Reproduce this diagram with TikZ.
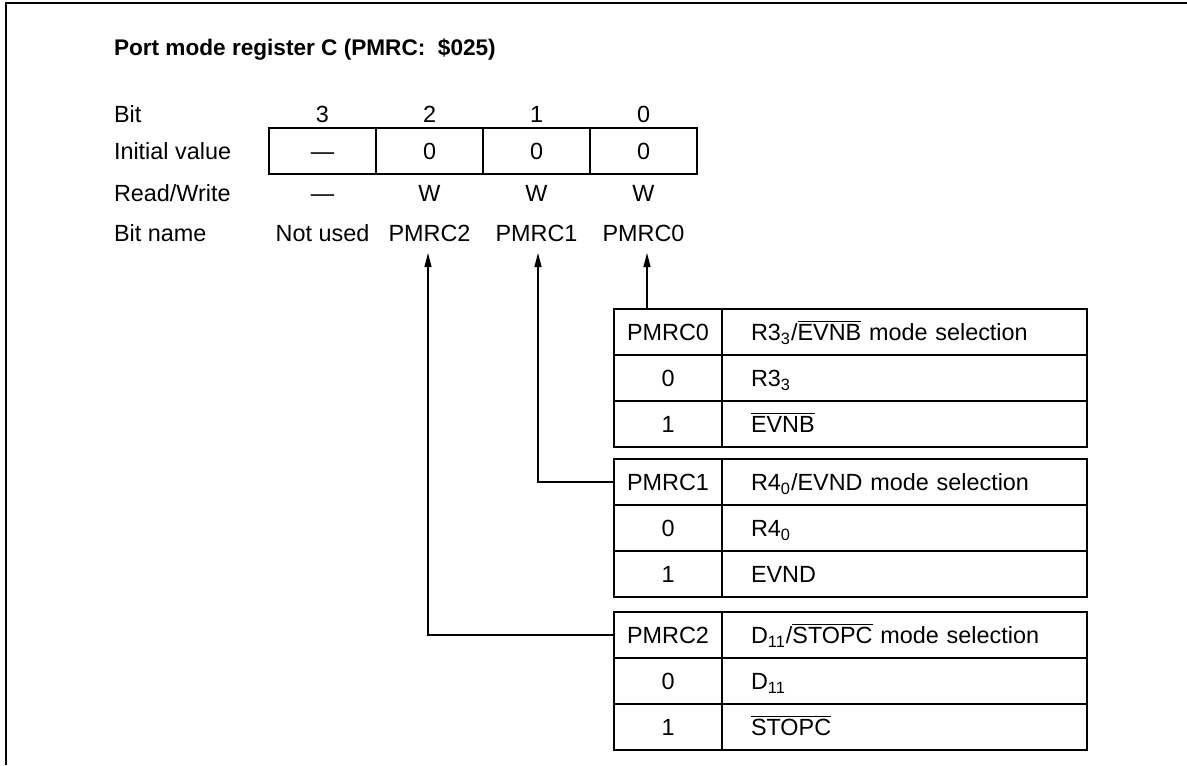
\documentclass[tikz,border=0pt]{standalone}
\usepackage{fontspec}
\setmainfont{Liberation Sans}
\usetikzlibrary{arrows.meta,positioning}
\tikzset{lbl/.style={inner sep=0pt,outer sep=0pt,anchor=base west},
  txt/.style={inner sep=0pt,outer sep=0pt,anchor=base},
  regcell/.style={draw,line width=0.6pt,minimum width=53.5pt,minimum height=23pt,
    text height=8.4pt,text depth=0pt,inner sep=0pt,outer sep=0pt},
  bitname/.style={anchor=base,text height=8.4pt,text depth=0pt,inner xsep=0pt,inner ysep=6pt,outer sep=0pt},
  numcell/.style={regcell,minimum width=54pt},
  desccell/.style={draw,line width=0.6pt,text width=153.5pt,align=left,inner xsep=14.5pt,
    inner ysep=0pt,minimum height=23pt,text height=8.4pt,text depth=0pt,outer sep=0pt},
  arr/.style={-{Triangle[length=7pt,width=3.5pt]},line width=0.6pt}}
\newcommand{\ovl}[1]{$\overline{\mbox{#1}}$}

\begin{document}
\begin{tikzpicture}[x=0.5pt,y=-0.5pt,font=\fontsize{11.7}{14}\selectfont]
\useasboundingbox (0,0) rectangle (1187,765);
\draw[line width=1pt] (1187,3) -- (6,3) -- (6,765);
\node[lbl,font=\fontsize{11.3}{14}\selectfont\bfseries] (title) at (114,56) {Port mode register C (PMRC:~~\$025)};

% register
\node[lbl] (lbit) at (114,122) {Bit};
\node[lbl] (liv) at (114,159.5) {Initial value};
\node[lbl] (lrw) at (114,201) {Read/Write};
\node[lbl] (lbn) at (114,241) {Bit name};
\foreach \b/\x/\iv/\rw/\nm in {3/322.5/—/—/Not used,2/429.5/0/W/PMRC2,1/536.5/0/W/PMRC1,0/643.5/0/W/PMRC0}{
  \node[txt] (bit\b) at (\x,122) {\b};
  \node[regcell] (iv\b) at (\x,151) {\iv};
  \node[txt] (rw\b) at (\x,201) {\rw};
  \node[bitname] (bn\b) at (\x,241) {\nm};
}

% PMRC0
\node[numcell] (t1a) at (668,332) {PMRC0};
\node[desccell,right=0pt of t1a] (t1b) {R3\textsubscript{3}/\ovl{EVNB} mode selection};
\node[numcell,below=0pt of t1a] (t1c) {0};
\node[desccell,right=0pt of t1c] (t1d) {R3\textsubscript{3}};
\node[numcell,below=0pt of t1c] (t1e) {1};
\node[desccell,right=0pt of t1e] (t1f) {\ovl{EVNB}};

% PMRC1
\node[numcell] (t2a) at (668,482) {PMRC1};
\node[desccell,right=0pt of t2a] (t2b) {R4\textsubscript{0}/EVND mode selection};
\node[numcell,below=0pt of t2a] (t2c) {0};
\node[desccell,right=0pt of t2c] (t2d) {R4\textsubscript{0}};
\node[numcell,below=0pt of t2c] (t2e) {1};
\node[desccell,right=0pt of t2e] (t2f) {EVND};

% PMRC2
\node[numcell] (t3a) at (668,635) {PMRC2};
\node[desccell,right=0pt of t3a] (t3b) {D\textsubscript{11}/\ovl{STOPC} mode selection};
\node[numcell,below=0pt of t3a] (t3c) {0};
\node[desccell,right=0pt of t3c] (t3d) {D\textsubscript{11}};
\node[numcell,below=0pt of t3c] (t3e) {1};
\node[desccell,right=0pt of t3e] (t3f) {\ovl{STOPC}};

\draw[arr] ([xshift=1.75pt]bn0.south |- t1a.north) -- ([xshift=1.75pt]bn0.south);
\draw[arr] (t2a.west) -| ([xshift=0.75pt]bn1.south);
\draw[arr] (t3a.west) -| ([xshift=-0.75pt]bn2.south);
\end{tikzpicture}
\end{document}
